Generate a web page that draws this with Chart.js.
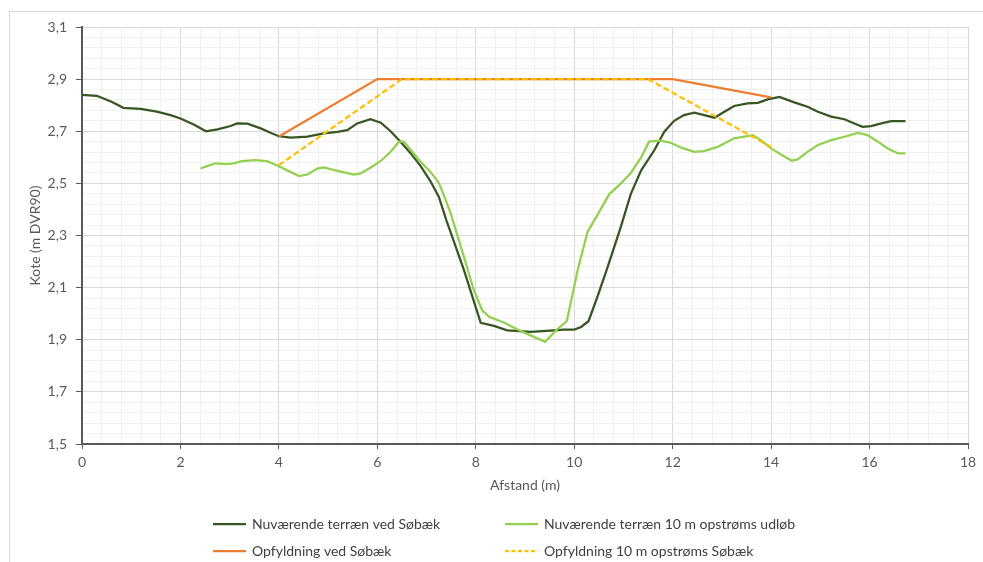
<!DOCTYPE html>
<html lang="da">
<head>
<meta charset="utf-8">
<title>Terrænprofil og opfyldning</title>
<script src="https://cdn.jsdelivr.net/npm/chart.js@4.4.1/dist/chart.umd.min.js"></script>
<style>
  html, body { margin: 0; padding: 0; background: #fff; }
  #wrap { width: 983px; height: 562px; }
</style>
</head>
<body>
<div id="wrap"><canvas id="profileChart" width="983" height="562"></canvas></div>
<script>
// Nuværende terræn ved Søbæk: afstand (m) og kote (m DVR90)
const sobaekX = [0, 0.3, 0.6, 0.84, 1.19, 1.52, 1.8, 2.0, 2.27, 2.52,
    2.75, 3.02, 3.15, 3.36, 3.63, 3.83, 4.0, 4.24, 4.58, 4.91,
    5.19, 5.39, 5.59, 5.86, 6.07, 6.27, 6.47, 6.68, 6.88, 7.08,
    7.25, 7.4, 7.76, 8.1, 8.37, 8.64, 9.12, 9.52, 9.79, 10.0,
    10.14, 10.29, 10.47, 10.68, 10.95, 11.15, 11.36, 11.63, 11.83, 12.03,
    12.23, 12.44, 12.64, 12.85, 13.05, 13.25, 13.52, 13.73, 13.93, 14.17,
    14.47, 14.74, 14.95, 15.22, 15.49, 15.69, 15.86, 16.03, 16.24, 16.44, 16.73];
const sobaekY = [2.84, 2.836, 2.813, 2.79, 2.786, 2.775, 2.762, 2.749, 2.726, 2.70,
    2.707, 2.72, 2.73, 2.729, 2.711, 2.694, 2.681, 2.676, 2.679, 2.692,
    2.698, 2.704, 2.73, 2.746, 2.733, 2.70, 2.66, 2.615, 2.566, 2.508,
    2.448, 2.36, 2.167, 1.965, 1.953, 1.936, 1.93, 1.935, 1.939, 1.939,
    1.949, 1.971, 2.064, 2.18, 2.335, 2.46, 2.55, 2.628, 2.698, 2.74,
    2.762, 2.771, 2.762, 2.752, 2.775, 2.797, 2.807, 2.809, 2.822, 2.832,
    2.811, 2.794, 2.775, 2.756, 2.746, 2.73, 2.717, 2.72, 2.73, 2.739, 2.739];

// Nuværende terræn 10 m opstrøms udløb
const upstreamX = [2.41, 2.54, 2.71, 2.95, 3.08, 3.25, 3.52, 3.76, 4.0, 4.2,
    4.41, 4.58, 4.78, 4.91, 5.19, 5.52, 5.66, 5.86, 6.07, 6.27,
    6.44, 6.54, 6.68, 6.88, 7.08, 7.25, 7.39, 7.49, 7.76, 7.96,
    8.13, 8.27, 8.58, 8.91, 9.18, 9.41, 9.63, 9.85, 10.07, 10.27,
    10.47, 10.71, 10.95, 11.15, 11.36, 11.52, 11.76, 11.97, 12.2, 12.44,
    12.64, 12.91, 13.25, 13.63, 13.79, 14.0, 14.2, 14.42, 14.54, 14.74,
    14.95, 15.22, 15.49, 15.76, 15.96, 16.17, 16.37, 16.58, 16.73];
const upstreamY = [2.557, 2.566, 2.577, 2.574, 2.577, 2.585, 2.589, 2.585, 2.566, 2.547,
    2.528, 2.534, 2.557, 2.561, 2.548, 2.534, 2.538, 2.56, 2.586, 2.621,
    2.66, 2.66, 2.628, 2.583, 2.544, 2.502, 2.436, 2.385, 2.218, 2.09,
    2.013, 1.988, 1.965, 1.934, 1.911, 1.892, 1.936, 1.972, 2.167, 2.314,
    2.378, 2.458, 2.50, 2.54, 2.6, 2.66, 2.664, 2.655, 2.635, 2.621,
    2.624, 2.64, 2.673, 2.685, 2.666, 2.634, 2.611, 2.587, 2.592, 2.621,
    2.647, 2.666, 2.679, 2.694, 2.685, 2.66, 2.634, 2.615, 2.615];

// Opfyldning
const fillSobaekX = [4, 6, 12, 14];
const fillSobaekY = [2.68, 2.9, 2.9, 2.83];
const fillUpstreamX = [4, 6.5, 11.5, 14];
const fillUpstreamY = [2.57, 2.9, 2.9, 2.64];

const seriesLabels = [
    'Nuværende terræn ved Søbæk',
    'Nuværende terræn 10 m opstrøms udløb',
    'Opfyldning ved Søbæk',
    'Opfyldning 10 m opstrøms Søbæk'
];

// Hovedinddelinger på akserne
const xMajorTicks = [0, 2, 4, 6, 8, 10, 12, 14, 16, 18];
const yMajorTicks = [1.5, 1.7, 1.9, 2.1, 2.3, 2.5, 2.7, 2.9, 3.1];
const minorSteps = 5;

const toPoints = (xs, ys) => xs.map((x, i) => ({ x: x, y: ys[i] }));

// hovedlinjer + 4 hjælpelinjer imellem
function withMinor(majors) {
    const out = [];
    for (let i = 0; i < majors.length; i++) {
        out.push({ value: majors[i], major: true });
        if (i < majors.length - 1) {
            const step = (majors[i + 1] - majors[i]) / minorSteps;
            for (let k = 1; k < minorSteps; k++) {
                out.push({ value: majors[i] + k * step, major: false });
            }
        }
    }
    return out;
}

const gridColor = ctx => (ctx.tick && ctx.tick.major) ? '#d9d9d9' : '#f0f0f0';
const tickMarkColor = ctx => (ctx.tick && ctx.tick.major) ? '#595959' : 'rgba(0,0,0,0)';

// hvid baggrund og ramme
const frame = {
    id: 'frame',
    beforeDraw(chart) {
        const ctx = chart.ctx;
        ctx.save();
        ctx.fillStyle = '#ffffff';
        ctx.fillRect(0, 0, chart.width, chart.height);
        ctx.strokeStyle = '#d9d9d9';
        ctx.lineWidth = 1;
        ctx.strokeRect(9.5, 11.5, 1000, 600);
        ctx.restore();
    }
};

// forklaring i to kolonner under diagrammet
const legendGrid = {
    id: 'legendGrid',
    afterDraw(chart) {
        const ctx = chart.ctx;
        const cols = [213, 505];
        const rows = [524, 551];
        chart.data.datasets.forEach((ds, i) => {
            const x = cols[i % 2];
            const y = rows[Math.floor(i / 2)];
            ctx.save();
            ctx.strokeStyle = ds.borderColor;
            ctx.lineWidth = ds.borderWidth;
            ctx.setLineDash(ds.borderDash ? [4, 2.5] : []);
            ctx.beginPath();
            ctx.moveTo(x, y);
            ctx.lineTo(x + 33, y);
            ctx.stroke();
            ctx.setLineDash([]);
            ctx.fillStyle = '#404040';
            ctx.font = '14px Lato';
            ctx.textBaseline = 'middle';
            ctx.fillText(ds.label, x + 39, y);
            ctx.restore();
        });
    }
};

Chart.defaults.font.family = 'Lato';
Chart.defaults.font.size = 14;
Chart.defaults.color = '#595959';

new Chart(document.getElementById('profileChart'), {
    type: 'line',
    data: {
        datasets: [{
            label: seriesLabels[0],
            data: toPoints(sobaekX, sobaekY),
            borderColor: '#375623',
            borderWidth: 2.25,
            order: 4
        }, {
            label: seriesLabels[1],
            data: toPoints(upstreamX, upstreamY),
            borderColor: '#92d050',
            borderWidth: 2.25,
            order: 3
        }, {
            label: seriesLabels[2],
            data: toPoints(fillSobaekX, fillSobaekY),
            borderColor: '#ed7d31',
            borderWidth: 2.25,
            order: 2
        }, {
            label: seriesLabels[3],
            data: toPoints(fillUpstreamX, fillUpstreamY),
            borderColor: '#ffc000',
            borderWidth: 2.25,
            borderDash: [6, 3],
            order: 1
        }]
    },
    options: {
        responsive: false,
        animation: false,
        tension: 0,
        pointRadius: 0,
        pointHoverRadius: 0,
        layout: { padding: { top: 27, right: 15, bottom: 62, left: 0 } },
        plugins: {
            legend: { display: false },
            tooltip: { enabled: false }
        },
        scales: {
            x: {
                type: 'linear',
                min: 0,
                max: 18,
                afterBuildTicks: scale => { scale.ticks = withMinor(xMajorTicks); },
                afterFit: scale => { scale.height = 56; },
                ticks: {
                    autoSkip: false,
                    maxRotation: 0,
                    padding: 5,
                    callback: (value, i, ticks) => ticks[i].major ? String(value) : ''
                },
                grid: { color: gridColor, tickColor: tickMarkColor, tickLength: 5, lineWidth: 1 },
                border: { color: '#595959', width: 2 },
                title: { display: true, text: 'Afstand (m)', padding: { top: 0, bottom: 6 } }
            },
            y: {
                type: 'linear',
                min: 1.5,
                max: 3.1,
                afterBuildTicks: scale => { scale.ticks = withMinor(yMajorTicks); },
                afterFit: scale => { scale.width = 82; },
                ticks: {
                    autoSkip: false,
                    padding: 9,
                    callback: (value, i, ticks) => ticks[i].major ? value.toFixed(1).replace('.', ',') : ''
                },
                grid: { color: gridColor, tickColor: tickMarkColor, tickLength: 6, lineWidth: 1 },
                border: { color: '#595959', width: 2 },
                title: { display: true, text: 'Kote (m DVR90)', padding: { top: 27, bottom: 0 } }
            }
        }
    },
    plugins: [frame, legendGrid]
});
</script>
</body>
</html>
